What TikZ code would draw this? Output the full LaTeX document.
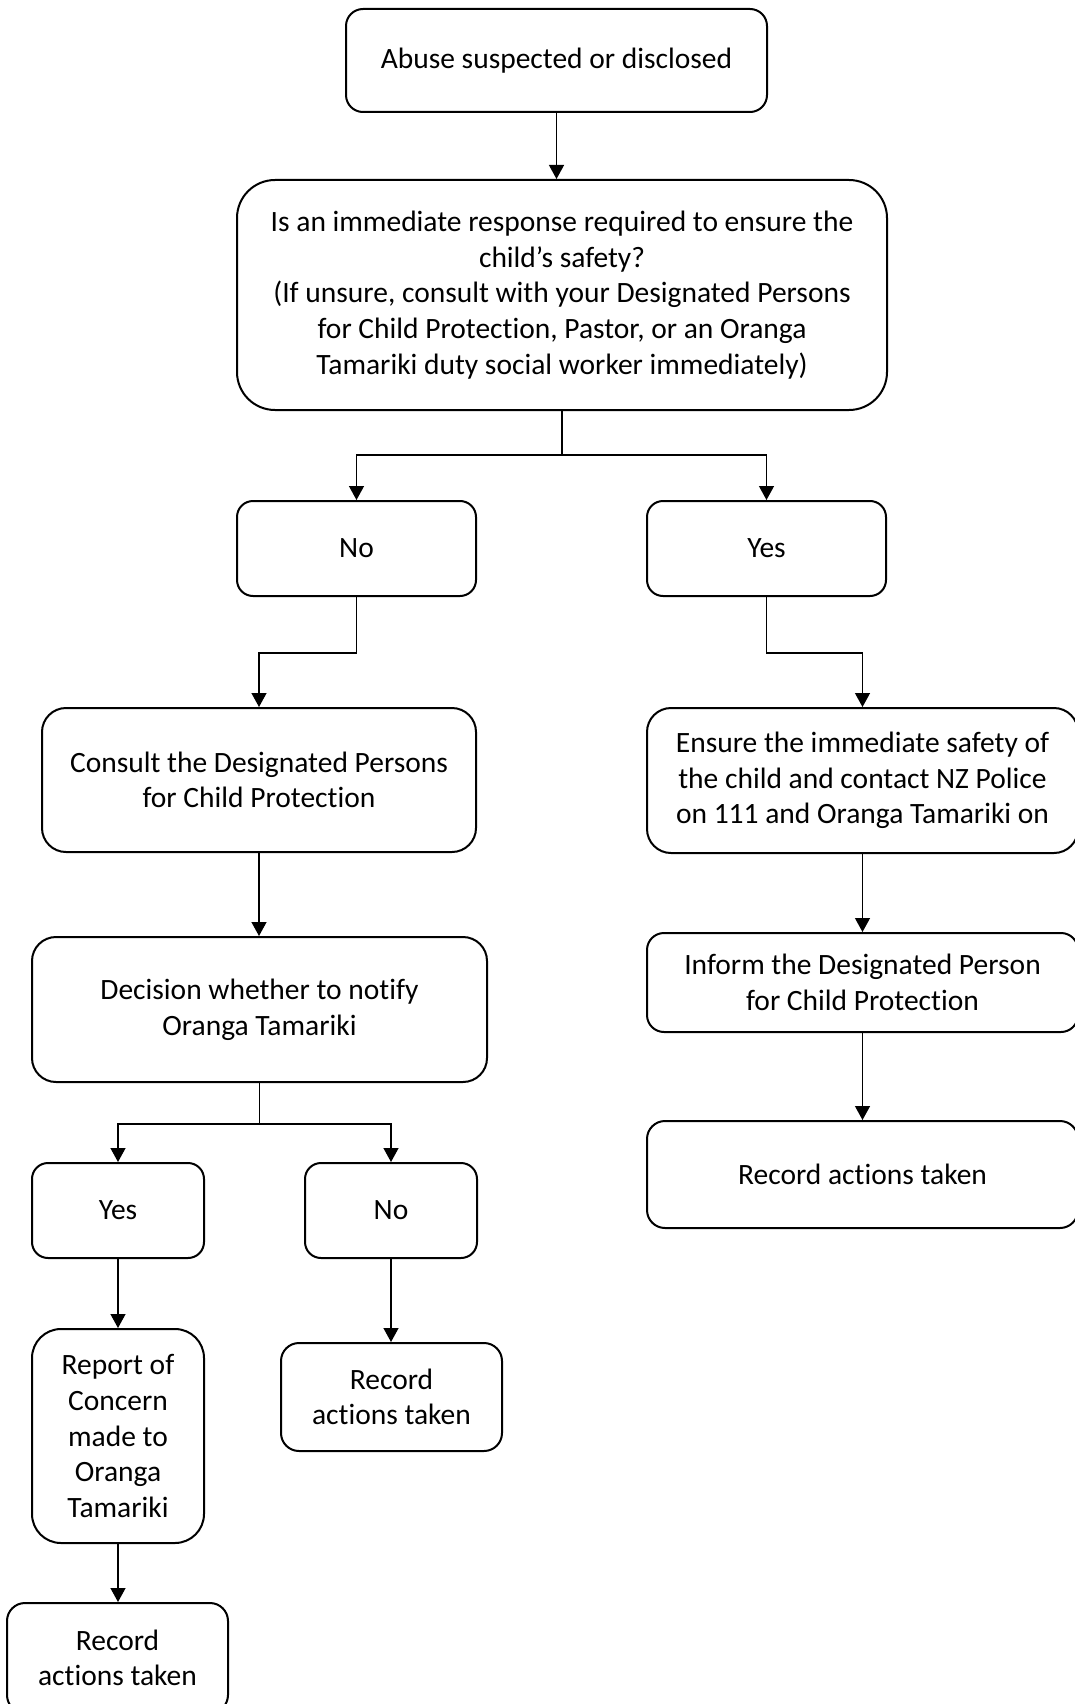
\documentclass[tikz,border=0pt]{standalone}
\usepackage{fontspec}
\setmainfont{Carlito}[Ligatures=NoCommon]
\usetikzlibrary{arrows.meta}
\tikzset{
  fbox/.style={draw, line width=2pt, align=center, inner sep=0pt, font=\fontsize{29.5}{35.6}\selectfont},
  conn/.style={line width=1.3pt},
  arr/.style={line width=1.3pt, -{Triangle[width=15pt,length=14pt]}}
}
\begin{document}
\begin{tikzpicture}[x=1pt,y=-1pt]
\useasboundingbox (0,0) rectangle (1074,1704);
\node[fbox, minimum width=421pt, minimum height=103pt, rounded corners=17pt] (abuse) at (556.5,60.5) {Abuse suspected or disclosed};
\node[fbox, minimum width=650pt, minimum height=230pt, rounded corners=38pt] (question) at (562,295) {Is an immediate response required to ensure the\\child’s safety?\\(If unsure, consult with your Designated Persons\\for Child Protection, Pastor, or an Oranga\\Tamariki duty social worker immediately)};
\node[fbox, minimum width=239pt, minimum height=95pt, rounded corners=16pt] (no1) at (356.5,548.5) {No};
\node[fbox, minimum width=239pt, minimum height=95pt, rounded corners=16pt] (yes1) at (766.5,548.5) {Yes};
\node[fbox, minimum width=434pt, minimum height=144pt, rounded corners=24pt] (consult) at (259,780) {Consult the Designated Persons\\for Child Protection};
\node[fbox, minimum width=431pt, minimum height=145pt, rounded corners=24pt] (ensure) at (862.5,780.5) {Ensure the immediate safety of\\the child and contact NZ Police\\on 111 and Oranga Tamariki on};
\node[fbox, minimum width=431pt, minimum height=99pt, rounded corners=17pt] (inform) at (862.5,982.5) {Inform the Designated Person\\for Child Protection};
\node[fbox, minimum width=431pt, minimum height=107pt, rounded corners=18pt] (recR) at (862.5,1174.5) {Record actions taken};
\node[fbox, minimum width=455pt, minimum height=145pt, rounded corners=24pt] (decision) at (259.5,1009.5) {Decision whether to notify\\Oranga Tamariki};
\node[fbox, minimum width=172pt, minimum height=95pt, rounded corners=16pt] (yes2) at (118,1210.5) {Yes};
\node[fbox, minimum width=172pt, minimum height=95pt, rounded corners=16pt] (no2) at (391,1210.5) {No};
\node[fbox, minimum width=172pt, minimum height=214pt, rounded corners=29pt] (report) at (118,1436) {Report of\\Concern\\made to\\Oranga\\Tamariki};
\node[fbox, minimum width=221pt, minimum height=110pt, rounded corners=18pt] (recL) at (117.5,1658) {Record\\actions taken};
\node[fbox, minimum width=221pt, minimum height=108pt, rounded corners=18pt] (recM) at (391.5,1397) {Record\\actions taken};

\draw[arr] (abuse.south) -- (abuse.south |- question.north);
\draw[conn] (question.south) -- ++(0,44) coordinate (j1);
\draw[arr] (j1) -| (no1.north);
\draw[arr] (j1) -| (yes1.north);
\draw[arr] (no1.south) -- ++(0,56) -| (consult.north);
\draw[arr] (yes1.south) -- ++(0,56) -| (ensure.north);
\draw[arr] (ensure.south) -- (inform.north);
\draw[arr] (inform.south) -- (recR.north);
\draw[arr] (consult.south) -- (consult.south |- decision.north);
\draw[conn] (decision.south) -- ++(0,41) coordinate (j2);
\draw[arr] (j2) -| (yes2.north);
\draw[arr] (j2) -| (no2.north);
\draw[arr] (yes2.south) -- (report.north);
\draw[arr] (report.south) -- (report.south |- recL.north);
\draw[arr] (no2.south) -- (no2.south |- recM.north);
\end{tikzpicture}
\end{document}
